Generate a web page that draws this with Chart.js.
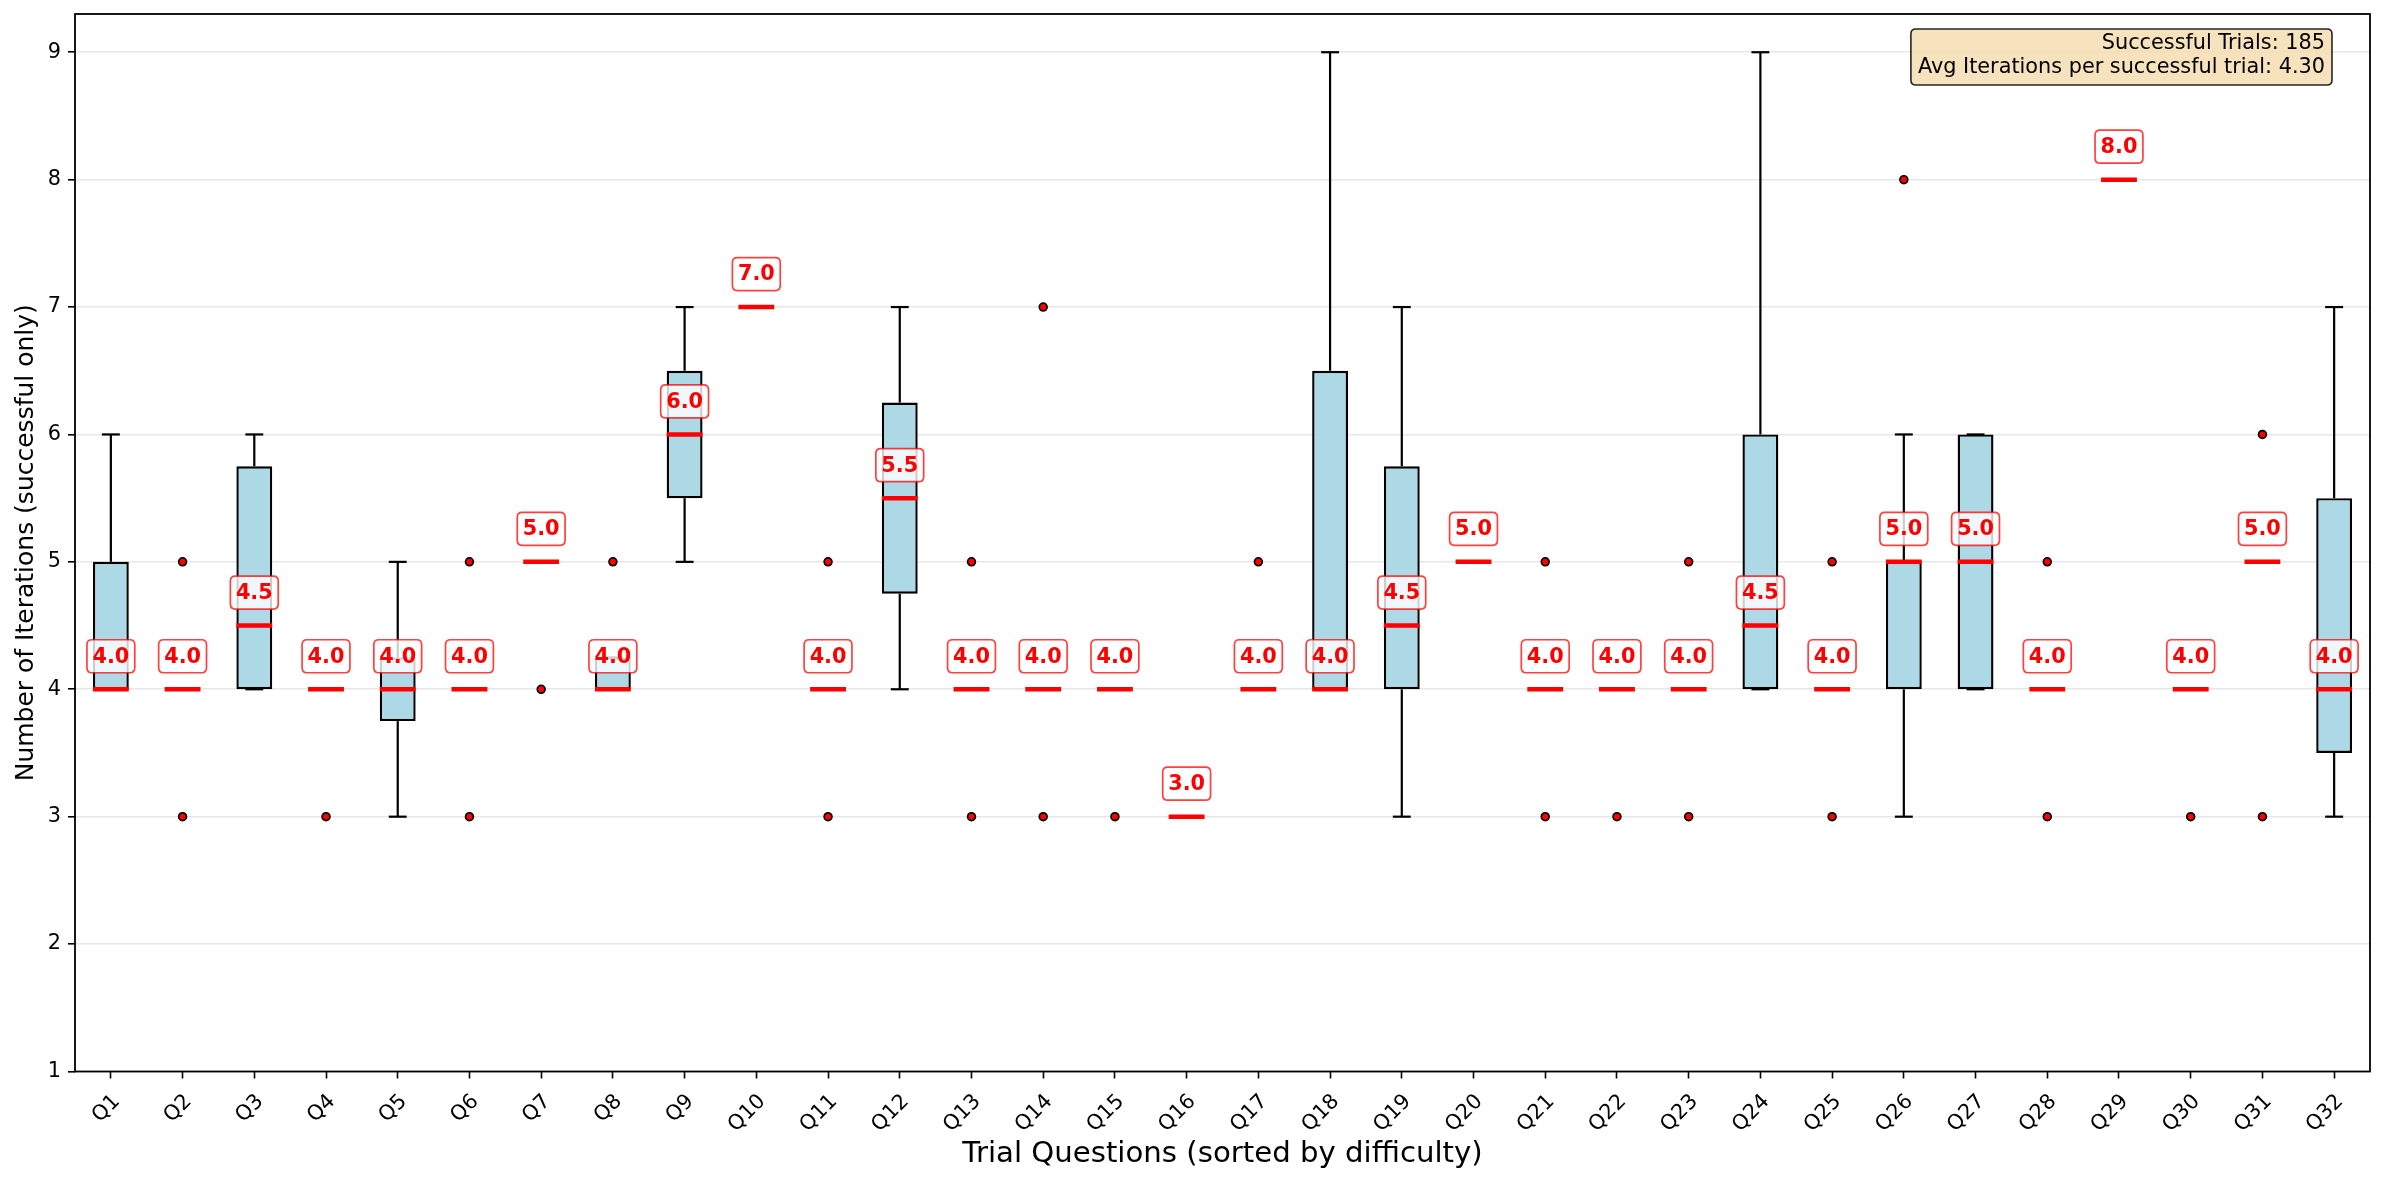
<!DOCTYPE html>
<html>
<head>
<meta charset="utf-8">
<script src="https://cdn.jsdelivr.net/npm/chart.js@4.4.1/dist/chart.umd.min.js"></script>
<style>
  html, body { margin: 0; padding: 0; background: #ffffff; }
  #wrap { width: 2386px; height: 1183px; position: relative; }
  canvas { display: block; }
</style>
</head>
<body>
<div id="wrap"><canvas id="c" width="2386" height="1183"></canvas></div>
<script>
// ---------------- DATA ----------------
const categories = ["Q1","Q2","Q3","Q4","Q5","Q6","Q7","Q8","Q9","Q10","Q11","Q12","Q13","Q14","Q15","Q16",
  "Q17","Q18","Q19","Q20","Q21","Q22","Q23","Q24","Q25","Q26","Q27","Q28","Q29","Q30","Q31","Q32"];

const medians = [4,4,4.5,4,4,4,5,4,6,7,4,5.5,4,4,4,3,4,4,4.5,5,4,4,4,4.5,4,5,5,4,8,4,5,4];

// box lower / upper quartiles (null = no box drawn)
const boxLow  = [4,null,4,null,3.75,null,null,4,5.5,null,null,4.75,null,null,null,null,
                 null,4,4,null,null,null,null,4,null,4,4,null,null,null,null,3.5];
const boxHigh = [5,null,5.75,null,4.25,null,null,4.25,6.5,null,null,6.25,null,null,null,null,
                 null,6.5,5.75,null,null,null,null,6,null,5,6,null,null,null,null,5.5];

// whisker ends
const whiskerLow  = [4,null,4,null,3,null,null,4,5,null,null,4,null,null,null,null,
                     null,4,3,null,null,null,null,4,null,3,4,null,null,null,null,3];
const whiskerHigh = [6,null,6,null,5,null,null,4.25,7,null,null,7,null,null,null,null,
                     null,9,7,null,null,null,null,9,null,6,6,null,null,null,null,7];

// outliers (question, value)
const outlierQuestions = ["Q2","Q2","Q4","Q6","Q6","Q7","Q8","Q11","Q11","Q13","Q13","Q14","Q14","Q15","Q17",
  "Q21","Q21","Q22","Q23","Q23","Q25","Q25","Q26","Q28","Q28","Q30","Q31","Q31"];
const outlierValues = [3,5,3,3,5,4,5,3,5,3,5,3,7,3,5,
  3,5,3,3,5,3,5,8,3,5,3,3,6];

const yTicks = [1,2,3,4,5,6,7,8,9];
const infoLines = ["Successful Trials: 185", "Avg Iterations per successful trial: 4.30"];
const xTitle = "Trial Questions (sorted by difficulty)";
const yTitle = "Number of Iterations (successful only)";

// ---------------- CHART ----------------
const FONT = "'DejaVu Sans', 'Liberation Sans', sans-serif";

function roundRect(ctx, x, y, w, h, r) {
  ctx.beginPath();
  ctx.moveTo(x + r, y);
  ctx.lineTo(x + w - r, y);
  ctx.quadraticCurveTo(x + w, y, x + w, y + r);
  ctx.lineTo(x + w, y + h - r);
  ctx.quadraticCurveTo(x + w, y + h, x + w - r, y + h);
  ctx.lineTo(x + r, y + h);
  ctx.quadraticCurveTo(x, y + h, x, y + h - r);
  ctx.lineTo(x, y + r);
  ctx.quadraticCurveTo(x, y, x + r, y);
  ctx.closePath();
}

const boxPlugin = {
  id: 'boxExtras',
  afterDatasetsDraw(chart) {
    const ctx = chart.ctx;
    const xs = chart.scales.x, ys = chart.scales.y;
    const step = xs.getPixelForValue(1) - xs.getPixelForValue(0);
    const boxW = step * 0.5, capW = step * 0.25;
    ctx.save();
    // whiskers and caps
    ctx.strokeStyle = '#000000';
    ctx.lineWidth = 2.2;
    categories.forEach((c, i) => {
      if (whiskerLow[i] == null) return;
      const x = xs.getPixelForValue(i);
      const segs = [[boxLow[i], whiskerLow[i]], [boxHigh[i], whiskerHigh[i]]];
      segs.forEach(([a, b]) => {
        const ya = ys.getPixelForValue(a), yb = ys.getPixelForValue(b);
        ctx.beginPath(); ctx.moveTo(x, ya); ctx.lineTo(x, yb); ctx.stroke();
        ctx.beginPath(); ctx.moveTo(x - capW / 2, yb); ctx.lineTo(x + capW / 2, yb); ctx.stroke();
      });
    });
    // medians
    ctx.strokeStyle = '#ff0000';
    ctx.lineWidth = 4.5;
    categories.forEach((c, i) => {
      const x = xs.getPixelForValue(i);
      const y = ys.getPixelForValue(medians[i]);
      ctx.beginPath(); ctx.moveTo(x - boxW / 2, y); ctx.lineTo(x + boxW / 2, y); ctx.stroke();
    });
    // median labels
    ctx.font = 'bold 20.8px ' + FONT;
    ctx.textAlign = 'center';
    ctx.textBaseline = 'middle';
    categories.forEach((c, i) => {
      const x = xs.getPixelForValue(i);
      const y = ys.getPixelForValue(medians[i]) - 33;
      const txt = medians[i].toFixed(1);
      const tw = ctx.measureText(txt).width;
      const w = tw + 11, h = 33;
      roundRect(ctx, x - w / 2, y - h / 2, w, h, 5);
      ctx.fillStyle = 'rgba(255,255,255,0.8)';
      ctx.fill();
      ctx.strokeStyle = 'rgba(255,0,0,0.75)';
      ctx.lineWidth = 1.7;
      ctx.stroke();
      ctx.fillStyle = '#ff0000';
      ctx.fillText(txt, x, y + 1);
    });
    ctx.restore();
  },
  afterDraw(chart) {
    const ctx = chart.ctx;
    const ca = chart.chartArea;
    ctx.save();
    // frame
    ctx.strokeStyle = '#000000';
    ctx.lineWidth = 1.8;
    ctx.strokeRect(ca.left, ca.top, ca.right - ca.left, ca.bottom - ca.top);
    // info box
    ctx.font = '20.8px ' + FONT;
    const w = Math.max(...infoLines.map(t => ctx.measureText(t).width)) + 14;
    const h = 56;
    const right = ca.right - 38, top = ca.top + 15;
    roundRect(ctx, right - w, top, w, h, 5);
    ctx.fillStyle = 'rgba(245,222,179,0.85)';
    ctx.fill();
    ctx.strokeStyle = 'rgba(0,0,0,0.85)';
    ctx.lineWidth = 1.6;
    ctx.stroke();
    ctx.fillStyle = '#000000';
    ctx.textAlign = 'right';
    ctx.textBaseline = 'middle';
    ctx.fillText(infoLines[0], right - 7, top + 15);
    ctx.fillText(infoLines[1], right - 7, top + 39);
    ctx.restore();
  }
};

const ctx = document.getElementById('c').getContext('2d');
new Chart(ctx, {
  data: {
    labels: categories,
    datasets: [
      {
        type: 'bar',
        data: boxLow.map((v, i) => v == null ? null : [v, boxHigh[i]]),
        backgroundColor: '#add8e6',
        borderColor: '#000000',
        borderWidth: 2.4,
        borderSkipped: false,
        barPercentage: 0.5,
        categoryPercentage: 1.0,
        grouped: false,
        order: 2
      },
      {
        type: 'line',
        data: outlierQuestions.map((q, i) => ({ x: q, y: outlierValues[i] })),
        showLine: false,
        pointRadius: 3.9,
        pointBackgroundColor: '#ff0000',
        pointBorderColor: '#000000',
        pointBorderWidth: 1.7,
        order: 1
      }
    ]
  },
  options: {
    responsive: false,
    animation: false,
    events: [],
    layout: { padding: { left: 0, right: 16, top: 14, bottom: 0 } },
    plugins: { legend: { display: false }, tooltip: { enabled: false } },
    scales: {
      x: {
        type: 'category',
        offset: true,
        grid: { display: true, drawOnChartArea: false, offset: false, drawTicks: true,
                tickLength: 7, tickWidth: 1.6, tickColor: '#000000' },
        border: { display: false },
        ticks: { autoSkip: false, minRotation: 45, maxRotation: 45, padding: 11, labelOffset: 6,
                 color: '#000000', font: { family: FONT, size: 20.8 } },
        title: { display: true, text: xTitle, color: '#000000',
                 font: { family: FONT, size: 29.2 }, padding: { top: 0, bottom: 11 } },
        afterFit(scale) { scale.height = 111.5; scale.paddingLeft = 0; scale.paddingRight = 0; }
      },
      y: {
        type: 'linear',
        min: 1,
        max: 9.3,
        grid: { color: 'rgba(176,176,176,0.3)', lineWidth: 1.6, drawTicks: true,
                tickLength: 7, tickWidth: 1.6, tickColor: '#000000' },
        border: { display: false },
        ticks: { stepSize: 1, includeBounds: false, padding: 7, color: '#000000',
                 font: { family: FONT, size: 20.8 },
                 callback: (v) => yTicks.includes(v) ? String(v) : '' },
        title: { display: true, text: yTitle, color: '#000000',
                 font: { family: FONT, size: 25 }, padding: { top: 11, bottom: 0 } },
        afterFit(scale) { scale.width = 75; scale.paddingTop = 0; scale.paddingBottom = 0; }
      }
    }
  },
  plugins: [boxPlugin]
});
</script>
</body>
</html>
